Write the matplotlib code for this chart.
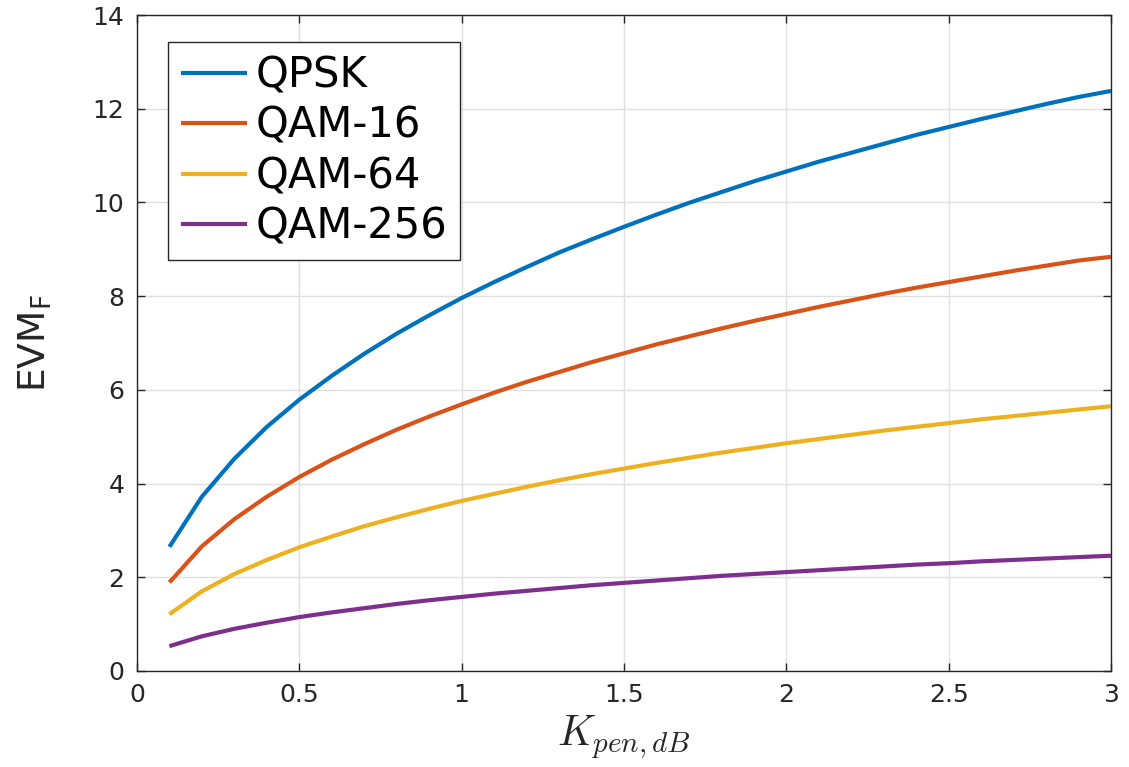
import matplotlib
matplotlib.use("Agg")
import matplotlib.pyplot as plt

# Penetration loss K (dB)
k_pen_db = [0.1, 0.2, 0.3, 0.4, 0.5, 0.6, 0.7, 0.8, 0.9, 1.0,
            1.1, 1.2, 1.3, 1.4, 1.5, 1.6, 1.7, 1.8, 1.9, 2.0,
            2.1, 2.2, 2.3, 2.4, 2.5, 2.6, 2.7, 2.8, 2.9, 3.0]

evm_qpsk = [2.65, 3.72, 4.53, 5.21, 5.79, 6.30, 6.77, 7.20, 7.59, 7.96,
            8.30, 8.62, 8.93, 9.21, 9.48, 9.74, 9.99, 10.22, 10.45, 10.66,
            10.87, 11.06, 11.25, 11.44, 11.61, 11.78, 11.94, 12.10, 12.25, 12.38]

evm_qam16 = [1.89, 2.66, 3.24, 3.72, 4.14, 4.51, 4.84, 5.15, 5.43, 5.69,
             5.94, 6.17, 6.38, 6.59, 6.78, 6.97, 7.14, 7.31, 7.47, 7.62,
             7.77, 7.91, 8.05, 8.18, 8.30, 8.42, 8.54, 8.65, 8.76, 8.84]

evm_qam64 = [1.21, 1.70, 2.07, 2.37, 2.64, 2.87, 3.09, 3.28, 3.46, 3.63,
             3.78, 3.93, 4.07, 4.20, 4.32, 4.44, 4.55, 4.66, 4.76, 4.86,
             4.95, 5.04, 5.13, 5.21, 5.29, 5.37, 5.44, 5.51, 5.58, 5.65]

evm_qam256 = [0.53, 0.74, 0.90, 1.03, 1.15, 1.25, 1.34, 1.43, 1.51, 1.58,
              1.65, 1.71, 1.77, 1.83, 1.88, 1.93, 1.98, 2.03, 2.07, 2.11,
              2.15, 2.19, 2.23, 2.27, 2.30, 2.34, 2.37, 2.40, 2.43, 2.46]

series_names = ["QPSK", "QAM-16", "QAM-64", "QAM-256"]
series_values = [evm_qpsk, evm_qam16, evm_qam64, evm_qam256]
series_colors = ["#0072BD", "#D95319", "#EDB120", "#7E2F8E"]

x_ticks = [0, 0.5, 1, 1.5, 2, 2.5, 3]
x_tick_labels = ["0", "0.5", "1", "1.5", "2", "2.5", "3"]
y_ticks = [0, 2, 4, 6, 8, 10, 12, 14]

plt.rcParams["font.family"] = ["DejaVu Sans"]

fig = plt.figure(figsize=(11.29, 7.67), dpi=100)
ax = fig.add_axes([0.1213, 0.1252, 0.8627, 0.8552])

for name, vals, col in zip(series_names, series_values, series_colors):
    ax.plot(k_pen_db, vals, color=col, linewidth=3.0, label=name,
            solid_capstyle="butt")

ax.set_xlim(0, 3)
ax.set_ylim(0, 14)
ax.set_xticks(x_ticks)
ax.set_xticklabels(x_tick_labels)
ax.set_yticks(y_ticks)

ax.grid(True, color="#e0e0e0", linewidth=1.0)
ax.set_axisbelow(True)

for sp in ax.spines.values():
    sp.set_color("#262626")
    sp.set_linewidth(1.0)

ax.tick_params(direction="in", length=6, width=1.0, color="#262626",
               labelcolor="#262626", labelsize=18,
               top=True, right=True, pad=9)

ax.set_xlabel(r"$K_{pen,dB}$", fontsize=30, math_fontfamily="cm",
              color="#262626", labelpad=4)
ax.set_ylabel(r"EVM$_{\mathrm{F}}$", fontsize=27, color="#262626",
              labelpad=28)

leg = ax.legend(loc="upper left", bbox_to_anchor=(0.032, 0.959),
                borderaxespad=0, fontsize=30, frameon=True, fancybox=False,
                edgecolor="#262626", framealpha=1.0, handlelength=1.6,
                handletextpad=0.2, labelspacing=0.2, borderpad=0.3)
leg.get_frame().set_linewidth(1.0)

fig.savefig("out.png", dpi=100, facecolor="white")
